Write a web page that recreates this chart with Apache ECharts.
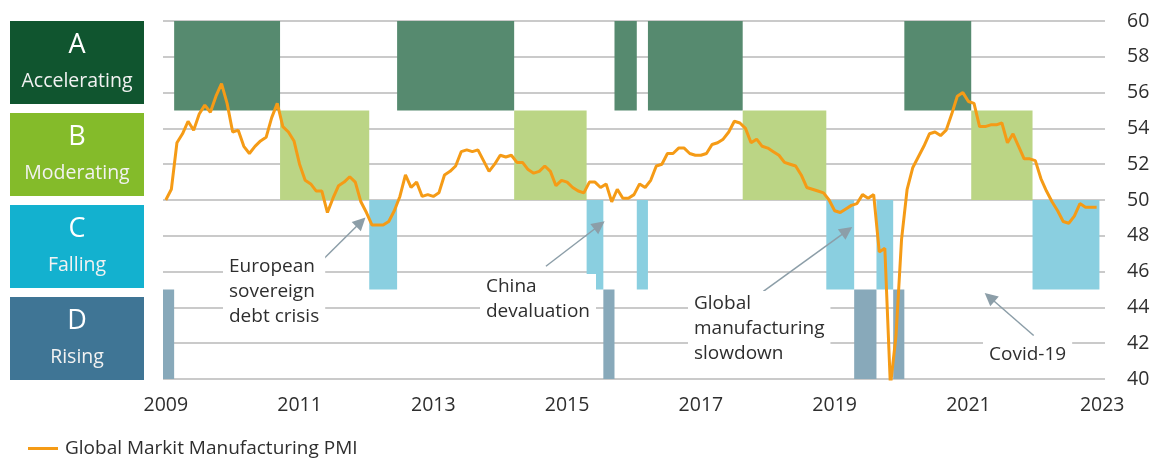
<!DOCTYPE html>
<html>
<head>
<meta charset="utf-8">
<script src="https://cdn.jsdelivr.net/npm/echarts@6/dist/echarts.min.js"></script>
<style>
  html, body { margin: 0; padding: 0; background: #fff; }
  #main { width: 1163px; height: 459px; }
</style>
</head>
<body>
<div id="main"></div>
<script>
// x ticks (every 24th month) and monthly PMI readings
var yearLabels = ['2009', '2011', '2013', '2015', '2017', '2019', '2021', '2023'];
var pmi = [
  50.0, 50.6, 53.2, 53.7, 54.4, 53.9, 54.8, 55.3, 54.9, 55.8, 56.5, 55.4,
  53.8, 53.9, 53.0, 52.6, 53.0, 53.3, 53.5, 54.6, 55.4, 54.1, 53.8, 53.3,
  52.0, 51.1, 50.9, 50.5, 50.5, 49.3, 50.1, 50.8, 51.0, 51.3, 51.0, 49.9,
  49.3, 48.6, 48.6, 48.6, 48.8, 49.4, 50.2, 51.4, 50.7, 51.0, 50.2, 50.3,
  50.2, 50.4, 51.4, 51.6, 51.9, 52.7, 52.8, 52.7, 52.8, 52.2, 51.6, 52.0,
  52.5, 52.4, 52.5, 52.1, 52.1, 51.7, 51.5, 51.6, 51.9, 51.6, 50.8, 51.1,
  51.0, 50.7, 50.5, 50.4, 51.0, 51.0, 50.7, 50.9, 49.9, 50.6, 50.1, 50.1,
  50.3, 50.9, 50.7, 51.1, 51.9, 52.0, 52.6, 52.6, 52.9, 52.9, 52.6, 52.5,
  52.5, 52.6, 53.1, 53.2, 53.4, 53.8, 54.4, 54.3, 54.0, 53.2, 53.4, 53.0,
  52.9, 52.7, 52.5, 52.1, 52.0, 51.9, 51.4, 50.7, 50.6, 50.5, 50.4, 50.0,
  49.4, 49.3, 49.5, 49.7, 49.8, 50.3, 50.1, 50.3, 47.1, 47.3, 39.6, 42.4,
  47.8, 50.6, 51.8, 52.4, 53.0, 53.7, 53.8, 53.6, 53.9, 54.8, 55.8, 56.0,
  55.5, 55.4, 54.1, 54.1, 54.2, 54.2, 54.3, 53.2, 53.7, 53.0, 52.3, 52.3,
  52.2, 51.2, 50.5, 49.9, 49.4, 48.8, 48.7, 49.1, 49.8, 49.6, 49.6, 49.6
];

// regime periods, [first month, last month] (index into pmi)
var regimeA = [[2, 20], [42, 62], [81, 84], [87, 103], [133, 144]];
var regimeB = [[21, 36], [63, 75], [104, 118], [145, 155]];
var regimeC = [[37, 41], [76, 78], [85, 86], [119, 123], [128, 130], [156, 167]];
var regimeD = [[0, 1], [79, 80], [124, 127], [131, 132]];

// annotation arrows: [from month, from value, to month, to value]
var arrows = [
  [28.3, 46.7, 35.0, 48.77],
  [68.2, 46.3, 77.8, 48.59],
  [107.2, 44.9, 122.2, 48.28],
  [155.7, 42.43, 147.8, 44.57]
];

var FONT = '"Open Sans", "Noto Sans", sans-serif';

var regimes = [
  { periods: regimeA, lo: 55, hi: 60, color: '#568a6f', box: '#10552f', letter: 'A', name: 'Accelerating' },
  { periods: regimeB, lo: 50, hi: 55, color: '#bbd585', box: '#84bb2a', letter: 'B', name: 'Moderating' },
  { periods: regimeC, lo: 45, hi: 50, color: '#8acfe0', box: '#13b1cf', letter: 'C', name: 'Falling' },
  { periods: regimeD, lo: 40, hi: 45, color: '#88a9ba', box: '#3f7595', letter: 'D', name: 'Rising' }
];

var areaData = [];
regimes.forEach(function (r) {
  r.periods.forEach(function (p) {
    areaData.push([
      { xAxis: p[0] - 0.5, yAxis: r.lo, itemStyle: { color: r.color } },
      { xAxis: p[1] + 0.5, yAxis: r.hi }
    ]);
  });
});

var arrowData = arrows.map(function (a) {
  return [{ coord: [a[0], a[1]] }, { coord: [a[2], a[3]] }];
});

var lineData = pmi.map(function (v, i) { return [i, v]; });

// left-hand regime key
var graphics = [];
regimes.forEach(function (r, i) {
  var top = 21 + i * 92;
  graphics.push({
    type: 'rect', shape: { x: 10, y: top, width: 134, height: 83 },
    style: { fill: r.box }, z: 10
  });
  graphics.push({
    type: 'text', x: 77, y: top + 24, z: 11,
    style: { text: r.letter, fill: '#fff', font: '27px ' + FONT, align: 'center', verticalAlign: 'middle' }
  });
  graphics.push({
    type: 'text', x: 77, y: top + 60, z: 11,
    style: { text: r.name, fill: '#f2f2f2', font: '19.5px ' + FONT, align: 'center', verticalAlign: 'middle' }
  });
});

// annotation labels
var notes = [
  { text: 'European\nsovereign\ndebt crisis', x: 223, y: 254 },
  { text: 'China\ndevaluation', x: 480, y: 274 },
  { text: 'Global\nmanufacturing\nslowdown', x: 688, y: 291 },
  { text: 'Covid-19', x: 983, y: 342 }
];
notes.forEach(function (n) {
  graphics.push({
    type: 'text', x: n.x, y: n.y, z: 20,
    style: {
      text: n.text, fill: '#2e2e2e', font: '19px ' + FONT, lineHeight: 25,
      verticalAlign: 'top', backgroundColor: '#fff', padding: [0, 6, 0, 6]
    }
  });
});

var option = {
  animation: false,
  backgroundColor: '#fff',
  textStyle: { fontFamily: FONT },
  grid: { left: 163, right: 58, top: 21, bottom: 80 },
  legend: {
    left: 28, top: 439, padding: 0,
    icon: 'rect', itemWidth: 30, itemHeight: 3,
    data: ['Global Markit Manufacturing PMI'],
    textStyle: { fontSize: 19, color: '#2e2e2e', fontFamily: FONT, padding: [0, 0, 0, 2] }
  },
  xAxis: {
    type: 'value', min: -0.5, max: 168.5,
    axisLine: { show: false }, axisTick: { show: false }, splitLine: { show: false },
    axisLabel: {
      customValues: [0, 24, 48, 72, 96, 120, 144, 168],
      formatter: function (v) { return yearLabels[Math.round(v / 24)]; },
      fontSize: 19.5, color: '#2e2e2e', margin: 16
    }
  },
  yAxis: {
    type: 'value', position: 'right', min: 40, max: 60, interval: 2,
    axisLine: { show: false }, axisTick: { show: false },
    splitLine: { lineStyle: { color: '#b8b8b8', width: 1.5 } },
    axisLabel: { fontSize: 19.5, color: '#2e2e2e', margin: 22 }
  },
  graphic: graphics,
  series: [
    {
      name: 'regimes', type: 'line', data: [], z: 1, silent: true,
      markArea: { silent: true, data: areaData }
    },
    {
      name: 'Global Markit Manufacturing PMI', type: 'line', data: lineData,
      symbol: 'none', z: 5,
      lineStyle: { color: '#f59b16', width: 3 },
      itemStyle: { color: '#f59b16' }
    },
    {
      name: 'arrows', type: 'line', data: [], z: 6, silent: true,
      markLine: {
        silent: true, symbol: ['none', 'triangle'], symbolSize: [13, 13],
        label: { show: false },
        lineStyle: { color: '#8c9ea8', width: 1.5, type: 'solid' },
        data: arrowData
      }
    }
  ]
};

var chart = echarts.init(document.getElementById('main'));
chart.setOption(option);
</script>
</body>
</html>
